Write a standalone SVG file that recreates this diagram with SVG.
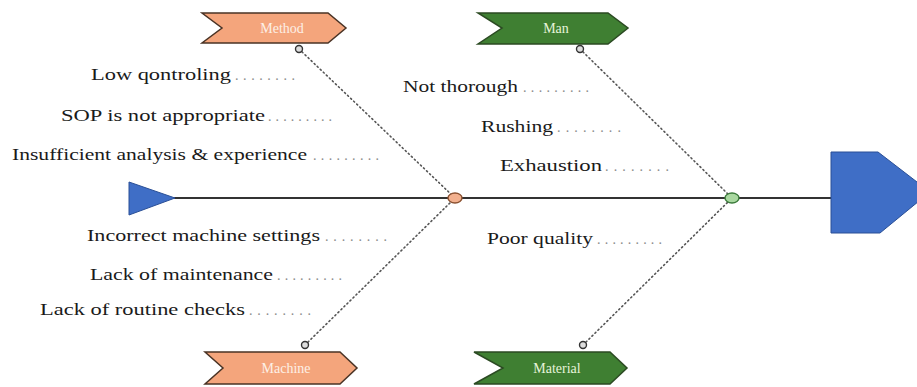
<svg xmlns="http://www.w3.org/2000/svg" width="917" height="387" viewBox="0 0 917 387">
  <style>
    .lbl { font-family: "Liberation Serif", "Times New Roman", serif; font-size: 16.5px; fill: #1a1a1a; }
    .dots { font-family: "Liberation Serif", "Times New Roman", serif; font-size: 14px; fill: #8a8a8a; }
    .cat { font-family: "Liberation Serif", "Times New Roman", serif; font-size: 14px; text-anchor: middle; }
    .orange { fill: #f4a57c; stroke: #4a3325; stroke-width: 1.5; }
    .green { fill: #3f7f32; stroke: #2b4a22; stroke-width: 1.5; }
    .bone { fill: none; stroke: #555; stroke-width: 1.6; stroke-dasharray: 1.2 3; stroke-linecap: round; }
    .spine { stroke: #333; stroke-width: 2; }
    .pin { fill: #ddd; stroke: #333; stroke-width: 1.4; }
    .blue { fill: #3f6ec6; stroke: #2a4f96; stroke-width: 1; }
  </style>

  <!-- connectors: spine and dotted bones -->
  <g id="connectors">
    <line class="spine" x1="174" y1="198" x2="831" y2="198"/>
    <line class="bone" x1="299" y1="49" x2="455" y2="198"/>
    <line class="bone" x1="305" y1="345" x2="455" y2="198"/>
    <line class="bone" x1="580" y1="49" x2="732" y2="198"/>
    <line class="bone" x1="583" y1="345" x2="732" y2="198"/>
  </g>

  <!-- tail and head -->
  <g id="tail">
    <polygon class="blue" points="129,182 129,215 175,198"/>
  </g>
  <g id="head">
    <polygon class="blue" points="831,152 878,152 930,192 880,233 831,233"/>
  </g>

  <!-- joints on the spine -->
  <g id="joint-left">
    <ellipse cx="455" cy="198" rx="7" ry="5" fill="#f2b08e" stroke="#8a5030" stroke-width="1.4"/>
  </g>
  <g id="joint-right">
    <ellipse cx="732" cy="198" rx="7" ry="5" fill="#a9d8a0" stroke="#3a7a3a" stroke-width="1.4"/>
  </g>

  <!-- category chevrons -->
  <g id="method">
    <polygon class="orange" points="202,13 328,13 346,28 328,43 202,43 222,28"/>
    <text class="cat" x="282" y="33" fill="#fdf0e6">Method</text>
    <circle class="pin" cx="299" cy="49" r="3.5"/>
  </g>
  <g id="man">
    <polygon class="green" points="478,13 608,13 628,28 608,44 478,44 502,28"/>
    <text class="cat" x="556" y="33" fill="#e6f4da">Man</text>
    <circle class="pin" cx="580" cy="49" r="3.5"/>
  </g>
  <g id="machine">
    <polygon class="orange" points="205,352 340,352 357,368 340,384 205,384 223,368"/>
    <text class="cat" x="286" y="373" fill="#fdf0e6">Machine</text>
    <circle class="pin" cx="305" cy="345" r="3.5"/>
  </g>
  <g id="material">
    <polygon class="green" points="474,352 610,352 627,368 610,384 474,384 503,368"/>
    <text class="cat" x="557" y="373" fill="#e6f4da">Material</text>
    <circle class="pin" cx="583" cy="345" r="3.5"/>
  </g>

  <!-- cause labels -->
  <g id="causes-method">
    <text class="lbl" x="91" y="80" textLength="140" lengthAdjust="spacingAndGlyphs">Low qontroling</text>
    <text class="dots" x="235" y="80" textLength="60" lengthAdjust="spacing">........</text>
    <text class="lbl" x="61" y="121" textLength="204" lengthAdjust="spacingAndGlyphs">SOP is not appropriate</text>
    <text class="dots" x="268" y="121" textLength="64" lengthAdjust="spacing">.........</text>
    <text class="lbl" x="12" y="160" textLength="295" lengthAdjust="spacingAndGlyphs">Insufficient analysis &amp; experience</text>
    <text class="dots" x="313" y="160" textLength="66" lengthAdjust="spacing">.........</text>
  </g>
  <g id="causes-man">
    <text class="lbl" x="403" y="92" textLength="115" lengthAdjust="spacingAndGlyphs">Not thorough</text>
    <text class="dots" x="523" y="92" textLength="66" lengthAdjust="spacing">.........</text>
    <text class="lbl" x="481" y="132" textLength="72" lengthAdjust="spacingAndGlyphs">Rushing</text>
    <text class="dots" x="557" y="132" textLength="64" lengthAdjust="spacing">........</text>
    <text class="lbl" x="500" y="171" textLength="102" lengthAdjust="spacingAndGlyphs">Exhaustion</text>
    <text class="dots" x="605" y="171" textLength="64" lengthAdjust="spacing">........</text>
  </g>
  <g id="causes-machine">
    <text class="lbl" x="87" y="241" textLength="233" lengthAdjust="spacingAndGlyphs">Incorrect machine settings</text>
    <text class="dots" x="325" y="241" textLength="62" lengthAdjust="spacing">........</text>
    <text class="lbl" x="90" y="280" textLength="183" lengthAdjust="spacingAndGlyphs">Lack of maintenance</text>
    <text class="dots" x="277" y="280" textLength="65" lengthAdjust="spacing">.........</text>
    <text class="lbl" x="40" y="315" textLength="205" lengthAdjust="spacingAndGlyphs">Lack of routine checks</text>
    <text class="dots" x="249" y="315" textLength="62" lengthAdjust="spacing">........</text>
  </g>
  <g id="causes-material">
    <text class="lbl" x="487" y="244" textLength="106" lengthAdjust="spacingAndGlyphs">Poor quality</text>
    <text class="dots" x="597" y="244" textLength="65" lengthAdjust="spacing">.........</text>
  </g>
</svg>
